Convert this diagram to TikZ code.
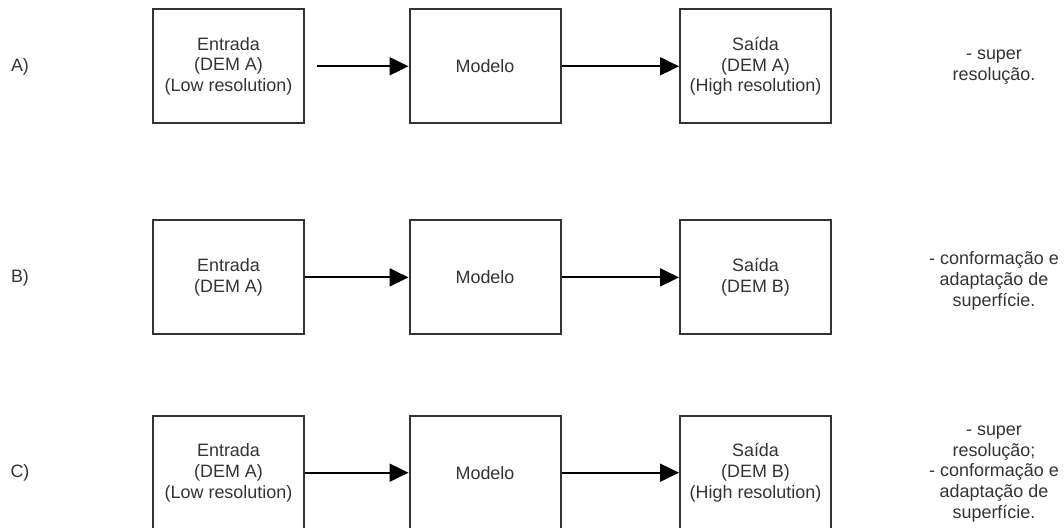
\documentclass[tikz,border=0pt]{standalone}
\usepackage{fontspec}
\setmainfont{Liberation Sans}
\usetikzlibrary{arrows.meta}
\definecolor{ink}{HTML}{333333}
\tikzset{
  x=1bp, y=-1bp,
  stepbox/.style={draw=ink, line width=2bp, minimum width=151bp, minimum height=114bp,
    inner sep=0pt, align=center, text=ink, font=\fontsize{18}{21}\selectfont},
  plain/.style={text=ink, align=center, font=\fontsize{18}{21}\selectfont, inner sep=0pt},
  flow/.style={draw=black, line width=2bp, -{Triangle[length=19bp, width=18bp]}},
}
\begin{document}
\begin{tikzpicture}
\useasboundingbox (0,0) rectangle (1064,528);
\clip (0,0) rectangle (1064,528);

% row A: super resolution
\node[plain] (la) at (20,66.5) {A)};
\node[stepbox] (a1) at (228.5,66.3) {Entrada\\(DEM A)\\(Low resolution)};
\node[stepbox] (a2) at (485,66.3) {Modelo};
\node[stepbox] (a3) at (755.5,66.3) {Saída\\(DEM A)\\(High resolution)};
\node[plain] (ta) at (994,67) {- super\\resolução.};
\coordinate (a0) at (316.7,66.3);
\draw[flow] (a0) -- (a2.west);
\draw[flow] (a2.east) -- (a3.west);

% row B: surface conformation
\node[plain] (lb) at (20,278) {B)};
\node[stepbox] (b1) at (228.5,277.4) {Entrada\\(DEM A)};
\node[stepbox] (b2) at (485,277.4) {Modelo};
\node[stepbox] (b3) at (755.5,277.4) {Saída\\(DEM B)};
\node[plain] (tb) at (994,281) {- conformação e\\adaptação de\\superfície.};
\draw[flow] (b1.east) -- (b2.west);
\draw[flow] (b2.east) -- (b3.west);

% row C: both
\node[plain] (lc) at (20,473) {C)};
\node[stepbox] (c1) at (228.5,472.7) {Entrada\\(DEM A)\\(Low resolution)};
\node[stepbox] (c2) at (485,472.7) {Modelo};
\node[stepbox] (c3) at (755.5,472.7) {Saída\\(DEM B)\\(High resolution)};
\node[plain] (tc) at (994,474) {- super\\resolução;\\- conformação e\\adaptação de\\superfície.};
\draw[flow] (c1.east) -- (c2.west);
\draw[flow] (c2.east) -- (c3.west);
\end{tikzpicture}
\end{document}
